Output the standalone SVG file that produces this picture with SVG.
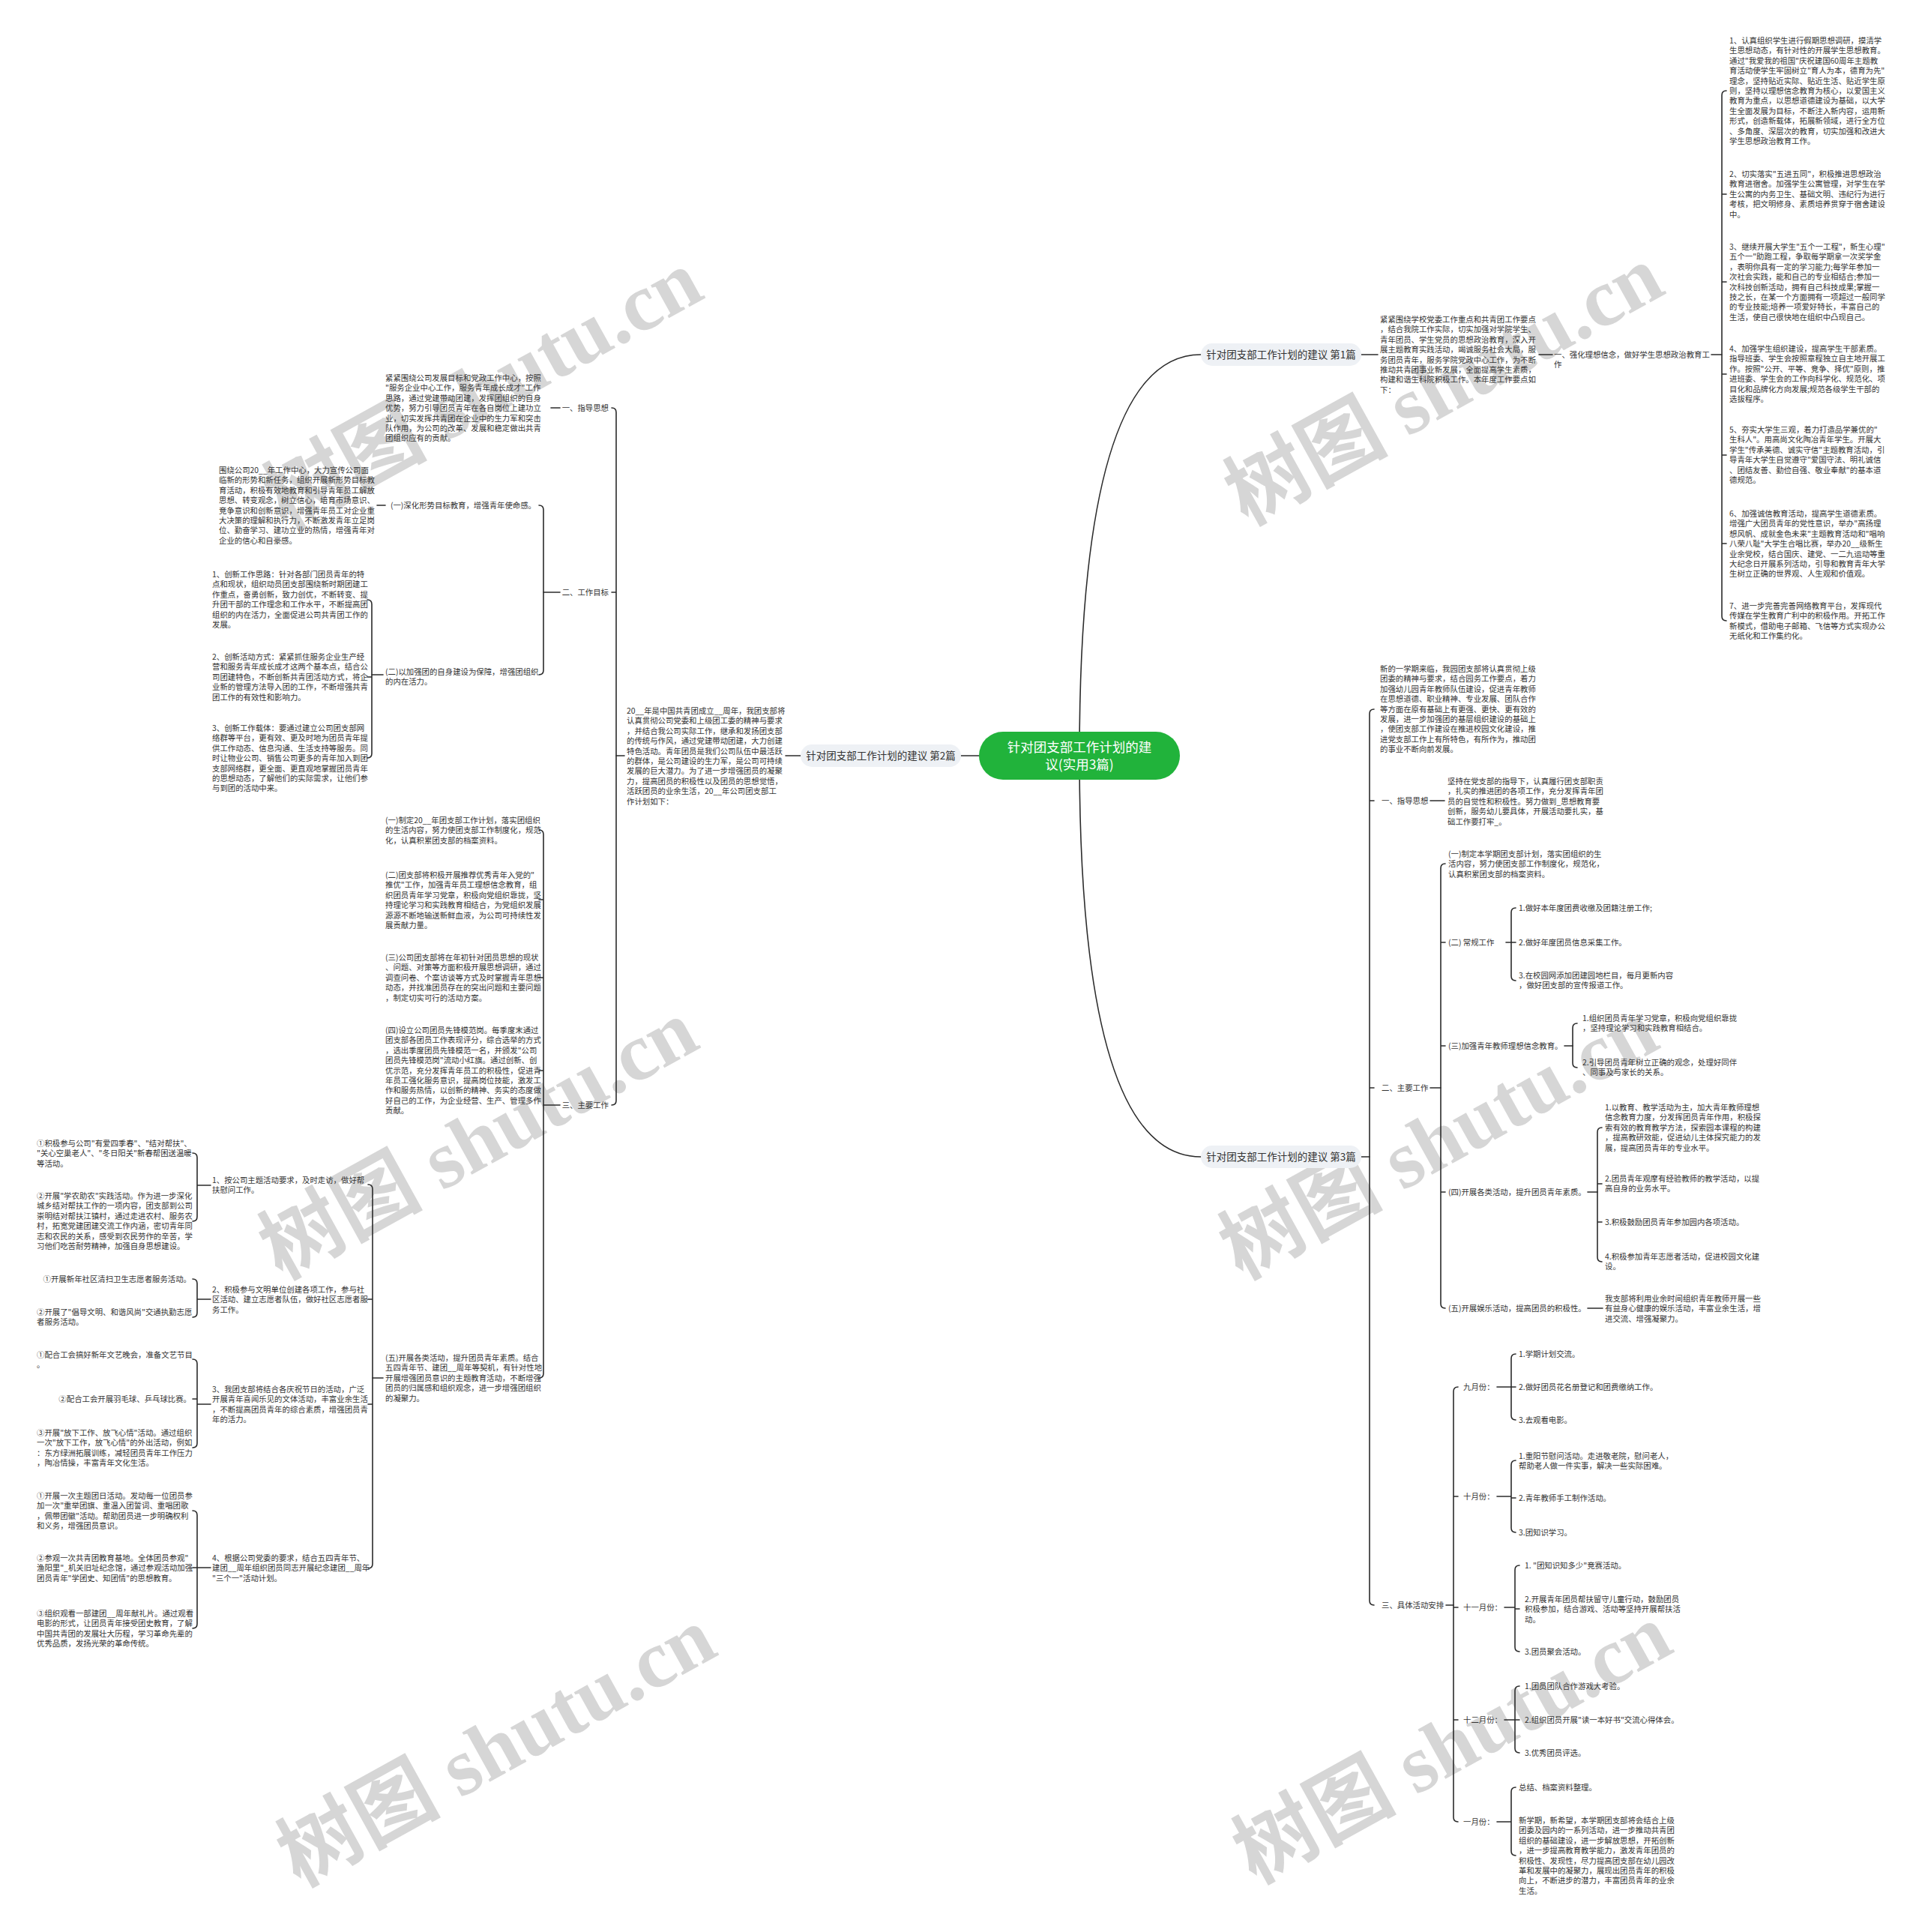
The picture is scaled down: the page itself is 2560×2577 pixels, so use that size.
<svg xmlns="http://www.w3.org/2000/svg" width="2560" height="2577" viewBox="0 0 2560 2577">
<style>
.t{font-family:"Noto Sans CJK SC","Noto Sans",sans-serif;font-size:10.4px;fill:#333}
.r{text-anchor:end}
.c{fill:none;stroke:#2b2b2b;stroke-width:1.6;stroke-linecap:round}
.bn{fill:#eef1f5}
.bt{font-family:"Noto Sans CJK SC","Noto Sans",sans-serif;font-size:13.5px;fill:#333;text-anchor:middle}
.wm{font-family:"Liberation Serif","Noto Sans CJK SC",serif;font-size:109px;fill:#d6d6d6;font-weight:bold;text-anchor:middle}
</style>
<rect width="2560" height="2577" fill="#fff"/>
<g id="watermarks">
<text class="wm" transform="translate(662,552) rotate(-29)">树图 shutu.cn</text>
<text class="wm" transform="translate(1944,546) rotate(-29)">树图 shutu.cn</text>
<text class="wm" transform="translate(656,1552) rotate(-29)">树图 shutu.cn</text>
<text class="wm" transform="translate(1937,1552) rotate(-29)">树图 shutu.cn</text>
<text class="wm" transform="translate(680,2362) rotate(-29)">树图 shutu.cn</text>
<text class="wm" transform="translate(1955,2358) rotate(-29)">树图 shutu.cn</text>
</g>
<g id="connectors">
<path class="c" d="M1440,1008 Q1440,473 1602,473"/>
<path class="c" d="M1440,1008 Q1440,1543 1602,1543"/>
<path class="c" d="M1306,1008H1282"/>
<path class="c" d="M1816,473H1838 M2053,473H2071 M2283,473H2297"/>
<path class="c" d="M2303,121 Q2297,121 2297,127 L2297,822 Q2297,828 2303,828 M2297,259h6 M2297,376h6 M2297,499h6 M2297,607h6 M2297,725h6"/>
<path class="c" d="M1816,1543H1827"/>
<path class="c" d="M1833,946 Q1827,946 1827,952 L1827,2135 Q1827,2141 1833,2141 M1827,1068h6 M1827,1451h6"/>
<path class="c" d="M1908,1068H1927"/>
<path class="c" d="M1908,1451H1922"/>
<path class="c" d="M1928,1152 Q1922,1152 1922,1158 L1922,1739 Q1922,1745 1928,1745 M1922,1257h6 M1922,1395h6 M1922,1590h6"/>
<path class="c" d="M2009,1257H2016"/>
<path class="c" d="M2022,1211 Q2016,1211 2016,1217 L2016,1302 Q2016,1308 2022,1308 M2016,1257h6"/>
<path class="c" d="M2087,1395H2098"/>
<path class="c" d="M2104,1365 Q2098,1365 2098,1371 L2098,1418 Q2098,1424 2104,1424"/>
<path class="c" d="M2118,1590H2131"/>
<path class="c" d="M2137,1504 Q2131,1504 2131,1510 L2131,1677 Q2131,1683 2137,1683 M2131,1579h6 M2131,1630h6"/>
<path class="c" d="M2118,1745H2138"/>
<path class="c" d="M1929,2141H1939"/>
<path class="c" d="M1945,1850 Q1939,1850 1939,1856 L1939,2424 Q1939,2430 1945,2430 M1939,1996h6 M1939,2144h6 M1939,2294h6"/>
<path class="c" d="M1997,1850H2016 M2022,1806 Q2016,1806 2016,1812 L2016,1888 Q2016,1894 2022,1894 M2016,1850h6"/>
<path class="c" d="M1997,1996H2016 M2022,1948 Q2016,1948 2016,1954 L2016,2038 Q2016,2044 2022,2044 M2016,1998h6"/>
<path class="c" d="M2007,2144H2021 M2027,2088 Q2021,2088 2021,2094 L2021,2197 Q2021,2203 2027,2203 M2021,2146h6"/>
<path class="c" d="M2007,2294H2021 M2027,2249 Q2021,2249 2021,2255 L2021,2332 Q2021,2338 2027,2338 M2021,2294h6"/>
<path class="c" d="M1997,2430H2016 M2022,2384 Q2016,2384 2016,2390 L2016,2469 Q2016,2475 2022,2475"/>
<path class="c" d="M1068,1008H1048 M833,1008H822"/>
<path class="c" d="M816,544 Q822,544 822,550 L822,1468 Q822,1474 816,1474 M822,790h-6"/>
<path class="c" d="M747,544H735"/>
<path class="c" d="M747,790H725"/>
<path class="c" d="M719,674 Q725,674 725,680 L725,894 Q725,900 719,900"/>
<path class="c" d="M503,674H514"/>
<path class="c" d="M511,900H496"/>
<path class="c" d="M490,800 Q496,800 496,806 L496,1005 Q496,1011 490,1011 M496,903h-6"/>
<path class="c" d="M747,1474H725"/>
<path class="c" d="M719,1107 Q725,1107 725,1113 L725,1832 Q725,1838 719,1838 M725,1200h-6 M725,1304h-6 M725,1428h-6"/>
<path class="c" d="M511,1838H497"/>
<path class="c" d="M491,1580 Q497,1580 497,1586 L497,2086 Q497,2092 491,2092 M497,1733h-6 M497,1873h-6"/>
<path class="c" d="M281,1581H263 M257,1538 Q263,1538 263,1544 L263,1623 Q263,1629 257,1629"/>
<path class="c" d="M281,1733H263 M257,1706 Q263,1706 263,1712 L263,1751 Q263,1757 257,1757"/>
<path class="c" d="M281,1873H263 M257,1813 Q263,1813 263,1819 L263,1925 Q263,1931 257,1931 M263,1866h-6"/>
<path class="c" d="M281,2091H263 M257,2015 Q263,2015 263,2021 L263,2166 Q263,2172 257,2172 M263,2091h-6"/>
</g>
<g id="center">
<rect x="1306" y="976" width="268" height="64" rx="32" fill="#21b33b"/>
<text x="1440" y="1003" text-anchor="middle" font-family="Noto Sans CJK SC, Noto Sans, sans-serif" font-size="17.5" fill="#fff">针对团支部工作计划的建<tspan x="1440" dy="23">议(实用3篇)</tspan></text>
</g>
<g id="branch1">
<rect class="bn" x="1602" y="458" width="214" height="30" rx="15"/>
<text class="bt" x="1709" y="478">针对团支部工作计划的建议 第1篇</text>
</g>
<g id="b1-intro"><text class="t" x="1841" y="430">紧紧围绕学校党委工作重点和共青团工作要点<tspan x="1841" dy="13.4">，结合我院工作实际，切实加强对学院学生、</tspan><tspan x="1841" dy="13.4">青年团员、学生党员的思想政治教育，深入开</tspan><tspan x="1841" dy="13.4">展主题教育实践活动，竭诚服务社会大局，服</tspan><tspan x="1841" dy="13.4">务团员青年，服务学院党政中心工作，为不断</tspan><tspan x="1841" dy="13.4">推动共青团事业新发展，全面提高学生素质，</tspan><tspan x="1841" dy="13.4">构建和谐生科院积极工作。本年度工作要点如</tspan><tspan x="1841" dy="13.4">下：</tspan></text></g>
<g id="b1-l1"><text class="t" x="2073" y="477">一、强化理想信念，做好学生思想政治教育工<tspan x="2073" dy="13.4">作</tspan></text></g>
<g id="b1-i1"><text class="t" x="2307" y="58">1、认真组织学生进行假期思想调研，摸清学<tspan x="2307" dy="13.4">生思想动态，有针对性的开展学生思想教育。</tspan><tspan x="2307" dy="13.4">通过"我爱我的祖国"庆祝建国60周年主题教</tspan><tspan x="2307" dy="13.4">育活动使学生牢固树立"育人为本，德育为先"</tspan><tspan x="2307" dy="13.4">理念，坚持贴近实际、贴近生活、贴近学生原</tspan><tspan x="2307" dy="13.4">则，坚持以理想信念教育为核心，以爱国主义</tspan><tspan x="2307" dy="13.4">教育为重点，以思想道德建设为基础，以大学</tspan><tspan x="2307" dy="13.4">生全面发展为目标，不断注入新内容，运用新</tspan><tspan x="2307" dy="13.4">形式，创造新载体，拓展新领域，进行全方位</tspan><tspan x="2307" dy="13.4">、多角度、深层次的教育，切实加强和改进大</tspan><tspan x="2307" dy="13.4">学生思想政治教育工作。</tspan></text></g>
<g id="b1-i2"><text class="t" x="2307" y="236">2、切实落实"五进五同"，积极推进思想政治<tspan x="2307" dy="13.4">教育进宿舍。加强学生公寓管理，对学生在学</tspan><tspan x="2307" dy="13.4">生公寓的内务卫生、基础文明、违纪行为进行</tspan><tspan x="2307" dy="13.4">考核，把文明修身、素质培养贯穿于宿舍建设</tspan><tspan x="2307" dy="13.4">中。</tspan></text></g>
<g id="b1-i3"><text class="t" x="2307" y="333">3、继续开展大学生"五个一工程"，新生心理"<tspan x="2307" dy="13.4">五个一"助跑工程，争取每学期拿一次奖学金</tspan><tspan x="2307" dy="13.4">，表明你具有一定的学习能力;每学年参加一</tspan><tspan x="2307" dy="13.4">次社会实践，能和自己的专业相结合;参加一</tspan><tspan x="2307" dy="13.4">次科技创新活动，拥有自己科技成果;掌握一</tspan><tspan x="2307" dy="13.4">技之长，在某一个方面拥有一项超过一般同学</tspan><tspan x="2307" dy="13.4">的专业技能;培养一项爱好特长，丰富自己的</tspan><tspan x="2307" dy="13.4">生活，使自己很快地在组织中凸现自己。</tspan></text></g>
<g id="b1-i4"><text class="t" x="2307" y="469">4、加强学生组织建设，提高学生干部素质。<tspan x="2307" dy="13.4">指导班委、学生会按照章程独立自主地开展工</tspan><tspan x="2307" dy="13.4">作。按照"公开、平等、竞争、择优"原则，推</tspan><tspan x="2307" dy="13.4">进班委、学生会的工作向科学化、规范化、项</tspan><tspan x="2307" dy="13.4">目化和品牌化方向发展;规范各级学生干部的</tspan><tspan x="2307" dy="13.4">选拔程序。</tspan></text></g>
<g id="b1-i5"><text class="t" x="2307" y="577">5、夯实大学生三观，着力打造品学兼优的"<tspan x="2307" dy="13.4">生科人"。用高尚文化陶冶青年学生。开展大</tspan><tspan x="2307" dy="13.4">学生"传承美德、诚实守信"主题教育活动，引</tspan><tspan x="2307" dy="13.4">导青年大学生自觉遵守"爱国守法、明礼诚信</tspan><tspan x="2307" dy="13.4">、团结友善、勤俭自强、敬业奉献"的基本道</tspan><tspan x="2307" dy="13.4">德规范。</tspan></text></g>
<g id="b1-i6"><text class="t" x="2307" y="689">6、加强诚信教育活动，提高学生道德素质。<tspan x="2307" dy="13.4">增强广大团员青年的党性意识，举办"高扬理</tspan><tspan x="2307" dy="13.4">想风帆、成就金色未来"主题教育活动和"唱响</tspan><tspan x="2307" dy="13.4">八荣八耻"大学生合唱比赛，举办20__级新生</tspan><tspan x="2307" dy="13.4">业余党校，结合国庆、建党、一二九运动等重</tspan><tspan x="2307" dy="13.4">大纪念日开展系列活动，引导和教育青年大学</tspan><tspan x="2307" dy="13.4">生树立正确的世界观、人生观和价值观。</tspan></text></g>
<g id="b1-i7"><text class="t" x="2307" y="812">7、进一步完善完善网络教育平台，发挥现代<tspan x="2307" dy="13.4">传媒在学生教育广利中的积极作用。开拓工作</tspan><tspan x="2307" dy="13.4">新模式，借助电子邮箱、飞信等方式实现办公</tspan><tspan x="2307" dy="13.4">无纸化和工作集约化。</tspan></text></g>
<g id="branch3">
<rect class="bn" x="1602" y="1528" width="214" height="30" rx="15"/>
<text class="bt" x="1709" y="1548">针对团支部工作计划的建议 第3篇</text>
</g>
<g id="b3-intro"><text class="t" x="1841" y="896">新的一学期来临，我园团支部将认真贯彻上级<tspan x="1841" dy="13.4">团委的精神与要求，结合园务工作要点，着力</tspan><tspan x="1841" dy="13.4">加强幼儿园青年教师队伍建设，促进青年教师</tspan><tspan x="1841" dy="13.4">在思想道德、职业精神、专业发展、团队合作</tspan><tspan x="1841" dy="13.4">等方面在原有基础上有更强、更快、更有效的</tspan><tspan x="1841" dy="13.4">发展，进一步加强团的基层组织建设的基础上</tspan><tspan x="1841" dy="13.4">，使团支部工作建设在推进校园文化建设，推</tspan><tspan x="1841" dy="13.4">进党支部工作上有所特色，有所作为，推动团</tspan><tspan x="1841" dy="13.4">的事业不断向前发展。</tspan></text></g>
<g id="b3-s1"><text class="t" x="1843" y="1072">一、指导思想</text></g>
<g id="b3-s1t"><text class="t" x="1931" y="1046">坚持在党支部的指导下，认真履行团支部职责<tspan x="1931" dy="13.4">，扎实的推进团的各项工作，充分发挥青年团</tspan><tspan x="1931" dy="13.4">员的自觉性和积极性。努力做到_思想教育要</tspan><tspan x="1931" dy="13.4">创新，服务幼儿要具体，开展活动要扎实，基</tspan><tspan x="1931" dy="13.4">础工作要打牢_。</tspan></text></g>
<g id="b3-s2"><text class="t" x="1843" y="1455">二、主要工作</text></g>
<g id="b3-s2a"><text class="t" x="1932" y="1143">(一)制定本学期团支部计划，落实团组织的生<tspan x="1932" dy="13.4">活内容，努力使团支部工作制度化，规范化，</tspan><tspan x="1932" dy="13.4">认真积累团支部的档案资料。</tspan></text></g>
<g id="b3-s2b"><text class="t" x="1932" y="1261">(二) 常规工作</text></g>
<g id="b3-s2b1"><text class="t" x="2026" y="1215">1.做好本年度团费收缴及团籍注册工作;</text></g>
<g id="b3-s2b2"><text class="t" x="2026" y="1261">2.做好年度团员信息采集工作。</text></g>
<g id="b3-s2b3"><text class="t" x="2026" y="1305">3.在校园网添加团建园地栏目，每月更新内容<tspan x="2026" dy="13.4">，做好团支部的宣传报道工作。</tspan></text></g>
<g id="b3-s2c"><text class="t" x="1932" y="1399">(三)加强青年教师理想信念教育。</text></g>
<g id="b3-s2c1"><text class="t" x="2111" y="1362">1.组织团员青年学习党章，积极向党组织靠拢<tspan x="2111" dy="13.4">，坚持理论学习和实践教育相结合。</tspan></text></g>
<g id="b3-s2c2"><text class="t" x="2111" y="1421">2.引导团员青年树立正确的观念，处理好同伴<tspan x="2111" dy="13.4">、同事及与家长的关系。</tspan></text></g>
<g id="b3-s2d"><text class="t" x="1932" y="1594">(四)开展各类活动，提升团员青年素质。</text></g>
<g id="b3-s2d1"><text class="t" x="2141" y="1481">1.以教育、教学活动为主，加大青年教师理想<tspan x="2141" dy="13.4">信念教育力度，分发挥团员青年作用，积极探</tspan><tspan x="2141" dy="13.4">索有效的教育教学方法，探索园本课程的构建</tspan><tspan x="2141" dy="13.4">，提高教研效能，促进幼儿主体探究能力的发</tspan><tspan x="2141" dy="13.4">展，提高团员青年的专业水平。</tspan></text></g>
<g id="b3-s2d2"><text class="t" x="2141" y="1576">2.团员青年观摩有经验教师的教学活动，以提<tspan x="2141" dy="13.4">高自身的业务水平。</tspan></text></g>
<g id="b3-s2d3"><text class="t" x="2141" y="1634">3.积极鼓励团员青年参加园内各项活动。</text></g>
<g id="b3-s2d4"><text class="t" x="2141" y="1680">4.积极参加青年志愿者活动，促进校园文化建<tspan x="2141" dy="13.4">设。</tspan></text></g>
<g id="b3-s2e"><text class="t" x="1932" y="1749">(五)开展娱乐活动，提高团员的积极性。</text></g>
<g id="b3-s2e1"><text class="t" x="2141" y="1736">我支部将利用业余时间组织青年教师开展一些<tspan x="2141" dy="13.4">有益身心健康的娱乐活动，丰富业余生活，增</tspan><tspan x="2141" dy="13.4">进交流、增强凝聚力。</tspan></text></g>
<g id="b3-s3"><text class="t" x="1843" y="2145">三、具体活动安排</text></g>
<g id="m9"><text class="t" x="1952" y="1854">九月份：</text></g>
<g id="m9-1"><text class="t" x="2026" y="1810">1.学期计划交流。</text></g>
<g id="m9-2"><text class="t" x="2026" y="1854">2.做好团员花名册登记和团费缴纳工作。</text></g>
<g id="m9-3"><text class="t" x="2026" y="1898">3.去观看电影。</text></g>
<g id="m10"><text class="t" x="1952" y="2000">十月份：</text></g>
<g id="m10-1"><text class="t" x="2026" y="1946">1.重阳节慰问活动。走进敬老院，慰问老人，<tspan x="2026" dy="13.4">帮助老人做一件实事，解决一些实际困难。</tspan></text></g>
<g id="m10-2"><text class="t" x="2026" y="2002">2.青年教师手工制作活动。</text></g>
<g id="m10-3"><text class="t" x="2026" y="2048">3.团知识学习。</text></g>
<g id="m11"><text class="t" x="1952" y="2148">十一月份：</text></g>
<g id="m11-1"><text class="t" x="2034" y="2092">1. "团知识知多少"竞赛活动。</text></g>
<g id="m11-2"><text class="t" x="2034" y="2137">2.开展青年团员帮扶留守儿童行动，鼓励团员<tspan x="2034" dy="13.4">积极参加，结合游戏、活动等坚持开展帮扶活</tspan><tspan x="2034" dy="13.4">动。</tspan></text></g>
<g id="m11-3"><text class="t" x="2034" y="2207">3.团员聚会活动。</text></g>
<g id="m12"><text class="t" x="1952" y="2298">十二月份：</text></g>
<g id="m12-1"><text class="t" x="2034" y="2253">1.团员团队合作游戏大考验。</text></g>
<g id="m12-2"><text class="t" x="2034" y="2298">2.组织团员开展"读一本好书"交流心得体会。</text></g>
<g id="m12-3"><text class="t" x="2034" y="2342">3.优秀团员评选。</text></g>
<g id="m1"><text class="t" x="1952" y="2434">一月份：</text></g>
<g id="m1-1"><text class="t" x="2026" y="2388">总结、档案资料整理。</text></g>
<g id="m1-2"><text class="t" x="2026" y="2432">新学期，新希望，本学期团支部将会结合上级<tspan x="2026" dy="13.4">团委及园内的一系列活动，进一步推动共青团</tspan><tspan x="2026" dy="13.4">组织的基础建设，进一步解放思想，开拓创新</tspan><tspan x="2026" dy="13.4">，进一步提高教育教学能力，激发青年团员的</tspan><tspan x="2026" dy="13.4">积极性、发现性，尽力提高团支部在幼儿园改</tspan><tspan x="2026" dy="13.4">革和发展中的凝聚力，展现出团员青年的积极</tspan><tspan x="2026" dy="13.4">向上，不断进步的潜力，丰富团员青年的业余</tspan><tspan x="2026" dy="13.4">生活。</tspan></text></g>
<g id="branch2">
<rect class="bn" x="1068" y="993" width="214" height="30" rx="15"/>
<text class="bt" x="1175" y="1013">针对团支部工作计划的建议 第2篇</text>
</g>
<g id="b2-intro"><text class="t" x="836" y="952">20__年是中国共青团成立__周年，我团支部将<tspan x="836" dy="13.4">认真贯彻公司党委和上级团工委的精神与要求</tspan><tspan x="836" dy="13.4">，并结合我公司实际工作，继承和发扬团支部</tspan><tspan x="836" dy="13.4">的传统与作风，通过党建带动团建，大力创建</tspan><tspan x="836" dy="13.4">特色活动。青年团员是我们公司队伍中最活跃</tspan><tspan x="836" dy="13.4">的群体，是公司建设的生力军，是公司可持续</tspan><tspan x="836" dy="13.4">发展的巨大潜力。为了进一步增强团员的凝聚</tspan><tspan x="836" dy="13.4">力，提高团员的积极性以及团员的思想觉悟，</tspan><tspan x="836" dy="13.4">活跃团员的业余生活，20__年公司团支部工</tspan><tspan x="836" dy="13.4">作计划如下：</tspan></text></g>
<g id="b2-s1"><text class="t r" x="812" y="548">一、指导思想</text></g>
<g id="b2-s1t"><text class="t" x="514" y="508">紧紧围绕公司发展目标和党政工作中心，按照<tspan x="514" dy="13.4">"服务企业中心工作，服务青年成长成才"工作</tspan><tspan x="514" dy="13.4">思路，通过党建带动团建，发挥团组织的自身</tspan><tspan x="514" dy="13.4">优势，努力引导团员青年在各自岗位上建功立</tspan><tspan x="514" dy="13.4">业，切实发挥共青团在企业中的生力军和突击</tspan><tspan x="514" dy="13.4">队作用，为公司的改革、发展和稳定做出共青</tspan><tspan x="514" dy="13.4">团组织应有的贡献。</tspan></text></g>
<g id="b2-s2"><text class="t r" x="812" y="794">二、工作目标</text></g>
<g id="b2-s2a"><text class="t r" x="715" y="678">(一)深化形势目标教育，增强青年使命感。</text></g>
<g id="b2-s2at"><text class="t" x="292" y="631">围绕公司20__年工作中心，大力宣传公司面<tspan x="292" dy="13.4">临新的形势和新任务，组织开展新形势目标教</tspan><tspan x="292" dy="13.4">育活动，积极有效地教育和引导青年员工解放</tspan><tspan x="292" dy="13.4">思想、转变观念，树立信心，培育市场意识、</tspan><tspan x="292" dy="13.4">竞争意识和创新意识，增强青年员工对企业重</tspan><tspan x="292" dy="13.4">大决策的理解和执行力，不断激发青年立足岗</tspan><tspan x="292" dy="13.4">位、勤奋学习、建功立业的热情，增强青年对</tspan><tspan x="292" dy="13.4">企业的信心和自豪感。</tspan></text></g>
<g id="b2-s2b"><text class="t" x="514" y="900">(二)以加强团的自身建设为保障，增强团组织<tspan x="514" dy="13.4">的内在活力。</tspan></text></g>
<g id="b2-s2b1"><text class="t" x="283" y="770">1、创新工作思路：针对各部门团员青年的特<tspan x="283" dy="13.4">点和现状，组织动员团支部围绕新时期团建工</tspan><tspan x="283" dy="13.4">作重点，奋勇创新，致力创优，不断转变、提</tspan><tspan x="283" dy="13.4">升团干部的工作理念和工作水平，不断提高团</tspan><tspan x="283" dy="13.4">组织的内在活力，全面促进公司共青团工作的</tspan><tspan x="283" dy="13.4">发展。</tspan></text></g>
<g id="b2-s2b2"><text class="t" x="283" y="880">2、创新活动方式：紧紧抓住服务企业生产经<tspan x="283" dy="13.4">营和服务青年成长成才这两个基本点，结合公</tspan><tspan x="283" dy="13.4">司团建特色，不断创新共青团活动方式，将企</tspan><tspan x="283" dy="13.4">业新的管理方法导入团的工作，不断增强共青</tspan><tspan x="283" dy="13.4">团工作的有效性和影响力。</tspan></text></g>
<g id="b2-s2b3"><text class="t" x="283" y="975">3、创新工作载体：要通过建立公司团支部网<tspan x="283" dy="13.4">络群等平台，更有效、更及时地为团员青年提</tspan><tspan x="283" dy="13.4">供工作动态、信息沟通、生活支持等服务。同</tspan><tspan x="283" dy="13.4">时让物业公司、销售公司更多的青年加入到团</tspan><tspan x="283" dy="13.4">支部网络群，更全面、更直观地掌握团员青年</tspan><tspan x="283" dy="13.4">的思想动态，了解他们的实际需求，让他们参</tspan><tspan x="283" dy="13.4">与到团的活动中来。</tspan></text></g>
<g id="b2-s3"><text class="t r" x="812" y="1478">三、主要工作</text></g>
<g id="b2-s3a"><text class="t" x="514" y="1098">(一)制定20__年团支部工作计划，落实团组织<tspan x="514" dy="13.4">的生活内容，努力使团支部工作制度化，规范</tspan><tspan x="514" dy="13.4">化，认真积累团支部的档案资料。</tspan></text></g>
<g id="b2-s3b"><text class="t" x="514" y="1171">(二)团支部将积极开展推荐优秀青年入党的"<tspan x="514" dy="13.4">推优"工作，加强青年员工理想信念教育，组</tspan><tspan x="514" dy="13.4">织团员青年学习党章，积极向党组织靠拢，坚</tspan><tspan x="514" dy="13.4">持理论学习和实践教育相结合，为党组织发展</tspan><tspan x="514" dy="13.4">源源不断地输送新鲜血液，为公司可持续性发</tspan><tspan x="514" dy="13.4">展贡献力量。</tspan></text></g>
<g id="b2-s3c"><text class="t" x="514" y="1281">(三)公司团支部将在年初针对团员思想的现状<tspan x="514" dy="13.4">、问题、对策等方面积极开展思想调研，通过</tspan><tspan x="514" dy="13.4">调查问卷、个案访谈等方式及时掌握青年思想</tspan><tspan x="514" dy="13.4">动态，并找准团员存在的突出问题和主要问题</tspan><tspan x="514" dy="13.4">，制定切实可行的活动方案。</tspan></text></g>
<g id="b2-s3d"><text class="t" x="514" y="1378">(四)设立公司团员先锋模范岗。每季度末通过<tspan x="514" dy="13.4">团支部各团员工作表现评分，综合选举的方式</tspan><tspan x="514" dy="13.4">，选出季度团员先锋模范一名，并颁发"公司</tspan><tspan x="514" dy="13.4">团员先锋模范岗"流动小红旗。通过创新、创</tspan><tspan x="514" dy="13.4">优示范，充分发挥青年员工的积极性，促进青</tspan><tspan x="514" dy="13.4">年员工强化服务意识，提高岗位技能，激发工</tspan><tspan x="514" dy="13.4">作和服务热情，以创新的精神、务实的态度做</tspan><tspan x="514" dy="13.4">好自己的工作，为企业经营、生产、管理多作</tspan><tspan x="514" dy="13.4">贡献。</tspan></text></g>
<g id="b2-s3e"><text class="t" x="514" y="1815">(五)开展各类活动，提升团员青年素质。结合<tspan x="514" dy="13.4">五四青年节、建团__周年等契机，有针对性地</tspan><tspan x="514" dy="13.4">开展增强团员意识的主题教育活动，不断增强</tspan><tspan x="514" dy="13.4">团员的归属感和组织观念，进一步增强团组织</tspan><tspan x="514" dy="13.4">的凝聚力。</tspan></text></g>
<g id="b2-e1"><text class="t" x="283" y="1578">1、按公司主题活动要求，及时走访，做好帮<tspan x="283" dy="13.4">扶慰问工作。</tspan></text></g>
<g id="b2-e1a"><text class="t" x="49" y="1529">①积极参与公司"有爱四季春"、"结对帮扶"、<tspan x="49" dy="13.4">"关心空巢老人"、"冬日阳关"新春帮困送温暖</tspan><tspan x="49" dy="13.4">等活动。</tspan></text></g>
<g id="b2-e1b"><text class="t" x="49" y="1599">②开展"学农助农"实践活动。作为进一步深化<tspan x="49" dy="13.4">城乡结对帮扶工作的一项内容，团支部到公司</tspan><tspan x="49" dy="13.4">崇明结对帮扶江镇村，通过走进农村、服务农</tspan><tspan x="49" dy="13.4">村，拓宽党建团建交流工作内涵，密切青年同</tspan><tspan x="49" dy="13.4">志和农民的关系，感受到农民劳作的辛苦，学</tspan><tspan x="49" dy="13.4">习他们吃苦耐劳精神，加强自身思想建设。</tspan></text></g>
<g id="b2-e2"><text class="t" x="283" y="1724">2、积极参与文明单位创建各项工作，参与社<tspan x="283" dy="13.4">区活动、建立志愿者队伍，做好社区志愿者服</tspan><tspan x="283" dy="13.4">务工作。</tspan></text></g>
<g id="b2-e2a"><text class="t r" x="255" y="1710">①开展新年社区清扫卫生志愿者服务活动。</text></g>
<g id="b2-e2b"><text class="t" x="49" y="1754">②开展了"倡导文明、和谐风尚"交通执勤志愿<tspan x="49" dy="13.4">者服务活动。</tspan></text></g>
<g id="b2-e3"><text class="t" x="283" y="1857">3、我团支部将结合各庆祝节日的活动，广泛<tspan x="283" dy="13.4">开展青年喜闻乐见的文体活动，丰富业余生活</tspan><tspan x="283" dy="13.4">，不断提高团员青年的综合素质，增强团员青</tspan><tspan x="283" dy="13.4">年的活力。</tspan></text></g>
<g id="b2-e3a"><text class="t" x="49" y="1811">①配合工会搞好新年文艺晚会，准备文艺节目<tspan x="49" dy="13.4">。</tspan></text></g>
<g id="b2-e3b"><text class="t r" x="255" y="1870">②配合工会开展羽毛球、乒乓球比赛。</text></g>
<g id="b2-e3c"><text class="t" x="49" y="1915">③开展"放下工作、放飞心情"活动。通过组织<tspan x="49" dy="13.4">一次"放下工作，放飞心情"的外出活动，例如</tspan><tspan x="49" dy="13.4">：东方绿洲拓展训练，减轻团员青年工作压力</tspan><tspan x="49" dy="13.4">，陶冶情操，丰富青年文化生活。</tspan></text></g>
<g id="b2-e4"><text class="t" x="283" y="2082">4、根据公司党委的要求，结合五四青年节、<tspan x="283" dy="13.4">建团__周年组织团员同志开展纪念建团__周年</tspan><tspan x="283" dy="13.4">"三个一"活动计划。</tspan></text></g>
<g id="b2-e4a"><text class="t" x="49" y="1999">①开展一次主题团日活动。发动每一位团员参<tspan x="49" dy="13.4">加一次"重举团旗、重温入团誓词、重唱团歌</tspan><tspan x="49" dy="13.4">，佩带团徽"活动。帮助团员进一步明确权利</tspan><tspan x="49" dy="13.4">和义务，增强团员意识。</tspan></text></g>
<g id="b2-e4b"><text class="t" x="49" y="2082">②参观一次共青团教育基地。全体团员参观"<tspan x="49" dy="13.4">渔阳里"_机关旧址纪念馆，通过参观活动加强</tspan><tspan x="49" dy="13.4">团员青年"学团史、知团情"的思想教育。</tspan></text></g>
<g id="b2-e4c"><text class="t" x="49" y="2156">③组织观看一部建团__周年献礼片。通过观看<tspan x="49" dy="13.4">电影的形式，让团员青年接受团史教育，了解</tspan><tspan x="49" dy="13.4">中国共青团的发展壮大历程，学习革命先辈的</tspan><tspan x="49" dy="13.4">优秀品质，发扬光荣的革命传统。</tspan></text></g>
</svg>
